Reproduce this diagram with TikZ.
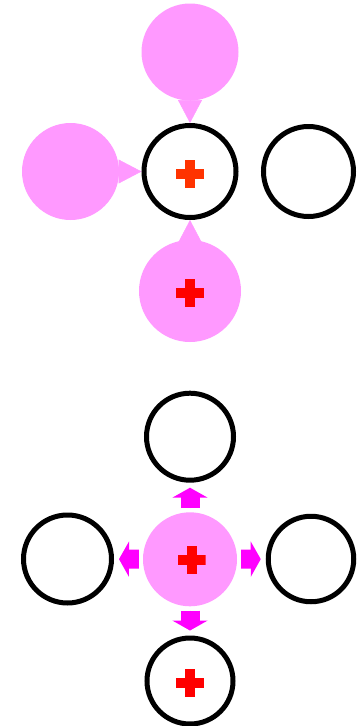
\documentclass[tikz,border=0pt]{standalone}
\usetikzlibrary{arrows.meta}
\definecolor{srcPink}{RGB}{255,153,255}
\definecolor{pushMag}{RGB}{255,0,255}
\definecolor{plusOrange}{RGB}{255,51,0}
\begin{document}
\begin{tikzpicture}[x=1pt,y=-1pt,
    srcNode/.style={circle,fill=srcPink,draw=none,minimum size=97pt,inner sep=0pt},
    ringNode/.style={circle,draw=black,line width=5pt,fill=white,minimum size=88pt,inner sep=0pt},
    plusMark/.style={minimum size=28pt,inner sep=0pt,
        path picture={\fill[#1] ([xshift=-14pt,yshift=-5pt]path picture bounding box.center) rectangle ++(28pt,10pt);
                      \fill[#1] ([xshift=-5pt,yshift=-14pt]path picture bounding box.center) rectangle ++(10pt,28pt);}},
    pullArr/.style={-{Triangle[length=23pt,width=24pt]},draw=srcPink,fill=srcPink,line width=0.5pt},
    pushArr/.style={-{Triangle[length=10pt,width=35pt]},draw=pushMag,fill=pushMag,line width=19pt,shorten <=4pt,shorten >=5pt},
]
\useasboundingbox (0,0) rectangle (357,726);
% upper picture
\node[srcNode] (srcTop) at (190,52) {};
\node[srcNode] (srcLeft) at (70.5,171.5) {};
\node[srcNode,minimum size=102pt] (srcBot) at (190,291) {};
\node[ringNode,minimum size=92pt] (hubRing) at (190,171.5) {};
\node[ringNode,minimum size=90pt] (sideRing) at (308.5,171.5) {};
\node[plusMark=plusOrange] (hubPlus) at (190,174) {};
\node[plusMark=red] (botPlus) at (190,293) {};
\draw[pullArr] (srcTop) -- (hubRing);
\draw[pullArr] (srcLeft) -- (hubRing);
\draw[pullArr] (srcBot) -- (hubRing);
% lower picture
\node[srcNode,minimum size=94pt] (hub) at (190,559.3) {};
\node[plusMark=red] (hubPlusB) at (191.7,560) {};
\node[ringNode,minimum size=87pt] (upRing) at (190,436.7) {};
\node[ringNode,minimum size=88pt] (leftRing) at (67.5,559) {};
\node[ringNode,minimum size=85.5pt] (rightRing) at (311,559) {};
\node[ringNode,minimum size=86pt] (downRing) at (190,681) {};
\node[plusMark=red] (downPlus) at (190,682.5) {};
\draw[pushArr] (hub) -- (upRing);
\draw[pushArr] (hub) -- (leftRing);
\draw[pushArr] (hub) -- (rightRing);
\draw[pushArr] (hub) -- (downRing);
\end{tikzpicture}
\end{document}
